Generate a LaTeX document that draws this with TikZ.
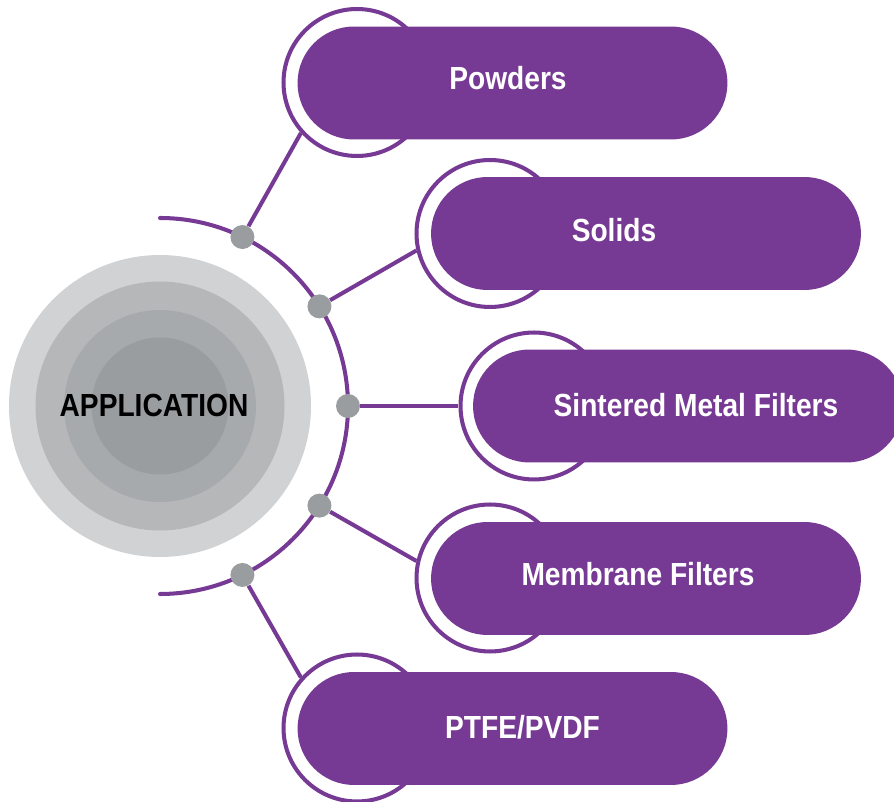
\documentclass[tikz,border=0pt]{standalone}
\usepackage{xcolor}
\usepackage{tikz}
\usepackage{fontspec}
\setmainfont{Liberation Sans}[FakeStretch=0.88]
\usetikzlibrary{shapes.geometric, positioning, calc}
\definecolor{appurple}{HTML}{773A94}
\definecolor{greyA}{HTML}{D1D2D4}
\definecolor{greyB}{HTML}{B6B7B9}
\definecolor{greyC}{HTML}{A7AAAD}
\definecolor{greyD}{HTML}{9A9DA0}

\begin{document}
\begin{tikzpicture}[
  x=0.02cm, y=0.02cm,
  link/.style={draw=appurple, line width=2.3pt},
  ring/.style={circle, draw=appurple, fill=white, line width=2.3pt, minimum size=2.94cm, inner sep=0pt},
  pill/.style={rectangle, fill=appurple, rounded corners=1.13cm, minimum width=8.6cm, minimum height=2.26cm},
  joint/.style={circle, fill=greyD, minimum size=0.48cm, inner sep=0pt},
  itemtext/.style={anchor=base, text=white, font=\fontsize{18.2}{20}\selectfont\bfseries}
]
  \clip (0,0) rectangle (894,802);
  \coordinate (C) at (160,396);

  % centre disc
  \fill[greyA] (C) circle[radius=151];
  \fill[greyB] (C) circle[radius=124.5];
  \fill[greyC] (C) circle[radius=96];
  \fill[greyD] (C) circle[radius=68.5];
  \node[anchor=base, font=\fontsize{18.2}{20}\selectfont\bfseries] (app) at (154,385) {APPLICATION};

  % arc round the disc
  \draw[link, line cap=round] (160,584) arc[start angle=90, end angle=-90, radius=188];

  % rings behind the pills
  \node[ring] (rA) at (357,719.5) {};
  \node[ring] (rB) at (490,568.5) {};
  \node[ring] (rC) at (534,396) {};
  \node[ring] (rD) at (490,224) {};
  \node[ring] (rE) at (357,74) {};

  % joints on the arc
  \path (C) ++(64:188) node[joint] (d1) {};
  \path (C) ++(32:188) node[joint] (d2) {};
  \path (C) ++(0:188) node[joint] (d3) {};
  \path (C) ++(-32:188) node[joint] (d4) {};
  \path (C) ++(-64:188) node[joint] (d5) {};

  \draw[link] (d1) -- (rA.222);
  \draw[link] (d2) -- (rB.193);
  \draw[link] (d3) -- (rC.180);
  \draw[link] (d4) -- (rD.167);
  \draw[link] (d5) -- (rE.138);

  % pills
  \node[pill] (pA) at (512.5,719) {};
  \node[pill] (pB) at (646,568.5) {};
  \node[pill] (pC) at (688,396) {};
  \node[pill] (pD) at (646,223.5) {};
  \node[pill] (pE) at (512.5,73.5) {};

  \node[itemtext] (tA) at (508,712) {Powders};
  \node[itemtext] (tB) at (614,560) {Solids};
  \node[itemtext] (tC) at (696,385) {Sintered Metal Filters};
  \node[itemtext] (tD) at (638,216) {Membrane Filters};
  \node[itemtext] (tE) at (522.5,63) {PTFE/PVDF};
\end{tikzpicture}
\end{document}
